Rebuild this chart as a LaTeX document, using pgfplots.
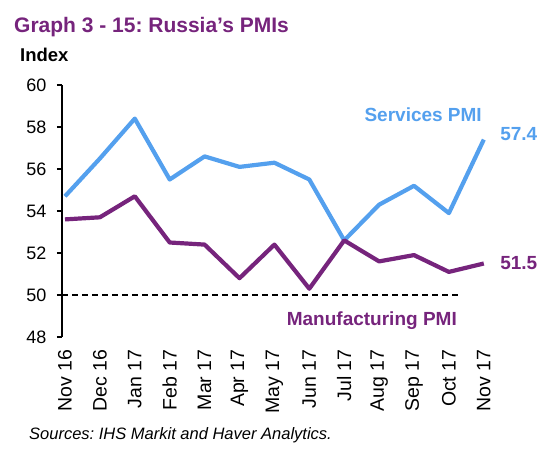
\documentclass[border=0pt]{standalone}
\usepackage{pgfplots}
\pgfplotsset{compat=1.18}
\usepackage{fontspec}
\setmainfont{Liberation Sans}
\definecolor{serv}{RGB}{84,160,238}
\definecolor{manu}{RGB}{118,36,124}
\begin{document}
\frenchspacing
\begin{tikzpicture}
\path[use as bounding box] (-62pt,-118pt) rectangle (488pt,337pt);
\begin{axis}[
  at={(0pt,0pt)}, anchor=south west,
  scale only axis, width=421.8pt, height=252pt,
  xmin=-0.086, xmax=12, ymin=48, ymax=60,
  axis x line*=bottom, axis y line*=left,
  x axis line style={draw=none},
  y axis line style={line width=1.5pt, black},
  tick align=outside, major tick length=5pt,
  ytick={48,50,...,60},
  ytick style={line width=1.5pt, black},
  xtick={0,...,12},
  xtick style={draw=none},
  xticklabels={Nov 16,Dec 16,Jan 17,Feb 17,Mar 17,Apr 17,May 17,Jun 17,Jul 17,Aug 17,Sep 17,Oct 17,Nov 17},
  xticklabel shift=4pt,
  xticklabel style={rotate=90, anchor=east, font=\fontsize{19.5}{21}\selectfont},
  yticklabel style={xshift=-7pt, font=\fontsize{18}{20}\selectfont},
  /pgf/number format/assume math mode=true,
  clip=false,
]
\addplot[black, line width=1.4pt, dash pattern=on 6pt off 4pt] coordinates {(-0.086,50) (11.25,50)};
\addplot[serv, line width=4.2pt, line join=round] coordinates {
(0,54.7) (1,56.5) (2,58.4) (3,55.5) (4,56.6) (5,56.1) (6,56.3) (7,55.5) (8,52.6) (9,54.3) (10,55.2) (11,53.9) (12,57.4)};
\addplot[manu, line width=4.2pt, line join=round] coordinates {
(0,53.6) (1,53.7) (2,54.7) (3,52.5) (4,52.4) (5,50.8) (6,52.4) (7,50.3) (8,52.6) (9,51.6) (10,51.9) (11,51.1) (12,51.5)};
\node[anchor=west, text=serv, font=\fontsize{19}{21}\selectfont\bfseries, xshift=13pt, yshift=6pt] at (axis cs:12,57.4) {57.4};
\node[anchor=west, text=manu, font=\fontsize{19}{21}\selectfont\bfseries, xshift=13pt] at (axis cs:12,51.5) {51.5};
\end{axis}
\node[anchor=base west, text=manu, font=\fontsize{21}{24}\selectfont\bfseries, inner sep=0pt] at (-48pt,304pt) {Graph 3 - 15: Russia’s PMIs};
\node[anchor=base west, font=\fontsize{18.5}{21}\selectfont\bfseries, inner sep=0pt] at (-42pt,275pt) {Index};
\node[anchor=base east, text=serv, font=\fontsize{19}{21}\selectfont\bfseries, inner sep=0pt] at (420pt,215pt) {Services PMI};
\node[anchor=base east, text=manu, font=\fontsize{19}{21}\selectfont\bfseries, inner sep=0pt] at (395pt,11pt) {Manufacturing PMI};
\node[anchor=base west, font=\fontsize{16.5}{19}\selectfont\itshape, inner sep=0pt] at (-33pt,-103pt) {Sources: IHS Markit and Haver Analytics.};
\end{tikzpicture}
\end{document}
